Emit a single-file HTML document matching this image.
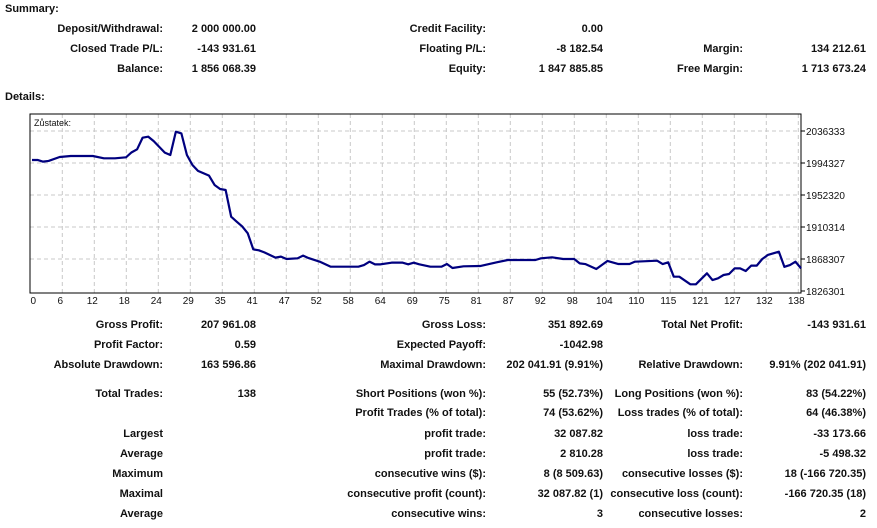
<!DOCTYPE html>
<html><head><meta charset="utf-8"><style>
body{margin:0;width:877px;height:528px;background:#fff;position:relative;overflow:hidden;font-family:Tahoma,"Liberation Sans","DejaVu Sans",sans-serif;color:#111}
.t{position:absolute;font-size:11px;font-weight:bold;white-space:nowrap;line-height:14px}
.r{transform:translateX(-100%)}
</style></head><body>
<div id="txt"></div>
<svg id="chart" width="877" height="528" style="position:absolute;left:0;top:0" font-family="Tahoma, 'Liberation Sans', sans-serif"></svg>
<script>
const trades=[0,1,2,3,5,7,11,13,15,17,18,19,20,21,22,24,25,26,27,28,29,30,31,32,33,34,35,36,37,38,39,40,41,42,44,45,46,48,49,50,52,54,59,60,61,62,63,65,67,68,69,70,72,74,75,76,78,81,84,86,91,92,94,96,98,99,100,102,104,106,108,109,113,114,115,116,117,119,120,122,123,124,125,126,127,128,129,130,131,132,133,135,136,137,138,139];
const balance=[1998300,1998300,1996100,1997000,2002200,2003500,2003500,2000500,2000500,2001800,2008300,2012300,2027600,2028900,2023000,2008000,2004800,2035400,2033200,2004800,1991700,1984000,1980800,1977700,1965450,1960200,1958900,1923800,1917300,1911000,1902000,1881000,1879700,1877000,1870100,1871400,1868300,1869200,1872700,1869500,1864800,1858200,1858200,1860400,1864800,1861300,1861300,1863500,1863500,1861300,1863500,1861300,1858200,1858200,1861700,1856500,1858700,1859100,1863900,1867000,1867000,1869200,1870500,1868300,1868300,1862600,1861700,1855200,1865700,1861700,1861700,1864800,1866100,1861700,1863900,1845100,1845100,1835100,1835100,1849500,1840700,1843000,1847300,1848600,1856000,1856000,1852500,1859600,1859600,1868300,1873600,1877900,1858000,1860400,1864800,1856000];
const yTicks=[1826301,1868307,1910314,1952320,1994327,2036333];
const xTickLabels=[0,6,12,18,24,29,35,41,47,52,58,64,69,75,81,87,92,98,104,110,115,121,127,132,138];
const summary=[
["Deposit/Withdrawal:","2 000 000.00","Credit Facility:","0.00","",""],
["Closed Trade P/L:","-143 931.61","Floating P/L:","-8 182.54","Margin:","134 212.61"],
["Balance:","1 856 068.39","Equity:","1 847 885.85","Free Margin:","1 713 673.24"]];
const details=[
[325,"Gross Profit:","207 961.08","Gross Loss:","351 892.69","Total Net Profit:","-143 931.61"],
[345,"Profit Factor:","0.59","Expected Payoff:","-1042.98","",""],
[365,"Absolute Drawdown:","163 596.86","Maximal Drawdown:","202 041.91 (9.91%)","Relative Drawdown:","9.91% (202 041.91)"],
[394,"Total Trades:","138","Short Positions (won %):","55 (52.73%)","Long Positions (won %):","83 (54.22%)"],
[413,"","","Profit Trades (% of total):","74 (53.62%)","Loss trades (% of total):","64 (46.38%)"],
[434,"Largest","","profit trade:","32 087.82","loss trade:","-33 173.66"],
[454,"Average","","profit trade:","2 810.28","loss trade:","-5 498.32"],
[474,"Maximum","","consecutive wins ($):","8 (8 509.63)","consecutive losses ($):","18 (-166 720.35)"],
[494,"Maximal","","consecutive profit (count):","32 087.82 (1)","consecutive loss (count):","-166 720.35 (18)"],
[514,"Average","","consecutive wins:","3","consecutive losses:","2"]];
const txt=document.getElementById('txt');
function put(s,x,y,right,name){if(!s)return;const d=document.createElement('div');d.className='t'+(right?' r':'');d.style.left=x+'px';d.style.top=(y-7)+'px';d.textContent=s;


txt.appendChild(d);}
put("Summary:",5,9,false,'summary-heading');
put("Details:",5,97,false,'details-heading');
const sy=[29,49,69];
summary.forEach((r,i)=>{const xs=[163,256,486,603,743,866];r.forEach((s,j)=>put(s,xs[j],sy[i],true,j%2?'summary-value':'summary-label'));});
details.forEach(r=>{const xs=[163,256,486,603,743,866];for(let j=1;j<7;j++)put(r[j],xs[j-1],r[0],true,j%2?'detail-label':'detail-value');});
const svg=document.getElementById('chart'),NS='http://www.w3.org/2000/svg';
const L=30,T=114,R=801,B=293,x0=32,nMax=139;
const X=i=>x0+i*(R-x0)/nMax;
const Y=v=>291-(v-1826301)/(2036333-1826301)*160;
function el(tag,a,name){const e=document.createElementNS(NS,tag);for(const k in a)e.setAttribute(k,a[k]);


svg.appendChild(e);return e;}
el('rect',{x:L,y:T,width:R-L,height:B-T,fill:'#fff',stroke:'none'},'plot-area');
yTicks.forEach((v,i)=>{const y=Y(v);if(i>0)el('line',{x1:L,x2:R,y1:y,y2:y,stroke:'#c8c8c8','stroke-dasharray':'4,3'},'y-gridline');
el('line',{x1:R,x2:R+4,y1:y,y2:y,stroke:'#000'},'y-tick');
const t=el('text',{x:R+5,y:y+4,'font-size':'10',fill:'#111'},'y-tick-label');t.textContent=v;});
xTickLabels.forEach((v,k)=>{const x=30.3+k*32;if(k>0)el('line',{x1:x,x2:x,y1:T,y2:B,stroke:'#c8c8c8','stroke-dasharray':'4,3'},'x-gridline');
const t=el('text',{x:x+(k===0?3:-2),y:304,'font-size':'10','text-anchor':'middle',fill:'#111'},'x-tick-label');t.textContent=v;});
el('rect',{x:L,y:T,width:R-L,height:B-T,fill:'none',stroke:'#000','stroke-width':1},'plot-border');
const lab=el('text',{x:34,y:126,'font-size':'9',fill:'#111'},'series-label');lab.textContent='Zůstatek:';
el('polyline',{points:trades.map((t,i)=>X(t)+','+Y(balance[i])).join(' '),fill:'none',stroke:'#00007f','stroke-width':2.2,'stroke-linejoin':'round'},'balance-line');
</script>
</body></html>
